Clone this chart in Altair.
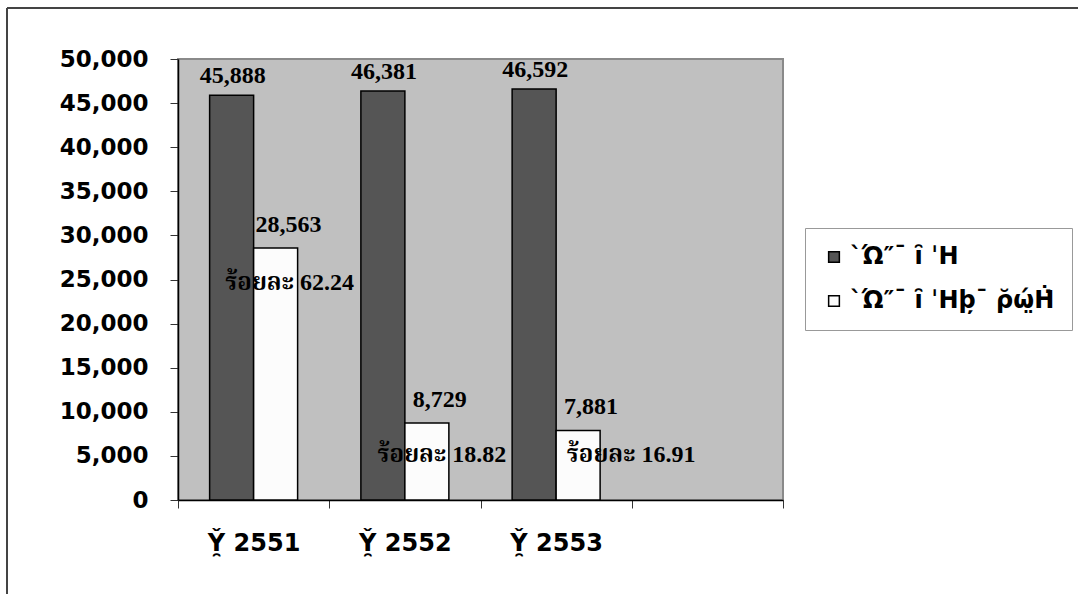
import altair as alt
import pandas as pd

years = ["Y̯̌ 2551", "Y̯̌ 2552", "Y̯̌ 2553"]
series = ["ˋΏ″¯ ȋ ˈH", "ˋΏ″¯ ȋ ˈHþ̦¯ ρ̆ώ̤Ḣ̇"]
total = [45888, 46381, 46592]
ontime = [28563, 8729, 7881]
percent = [62.24, 18.82, 16.91]
blank = "_"

rows = []
for i, y in enumerate(years):
    rows.append({"year": y, "series": series[0], "value": total[i], "pct": None, "k": 0})
    rows.append({"year": y, "series": series[1], "value": ontime[i], "pct": percent[i], "k": 1})
df = pd.DataFrame(rows)

W, H = 605, 441
LEFT, TOP = 178, 59

xscale = alt.Scale(domain=years + [blank], paddingInner=0, paddingOuter=0)
xoff = alt.Scale(domain=series, paddingInner=0, paddingOuter=0.719)
yscale = alt.Scale(domain=[0, 50000], nice=False)

x_enc = alt.X("year:N", scale=xscale, title=None,
              axis=alt.Axis(tickBand="extent", tickSize=8, labelAngle=0,
                            labelExpr=f"datum.value == '{blank}' ? '' : datum.label",
                            labelFont="DejaVu Sans", labelFontWeight="bold",
                            labelFontSize=24, labelColor="black", labelPadding=23,
                            domainColor="black", domainWidth=1.5, tickColor="#333",
                            grid=False))
y_enc = alt.Y("value:Q", scale=yscale, title=None,
              axis=alt.Axis(values=list(range(0, 50001, 5000)), format=",d",
                            tickSize=8, labelFont="DejaVu Sans", labelFontWeight="bold",
                            labelFontSize=23, labelColor="black", labelPadding=22,
                            domainColor="black", domainWidth=1.5, tickColor="#333",
                            grid=False))

base = alt.Chart(df)

bars = base.mark_bar(stroke="black", strokeWidth=1.5).encode(
    x=x_enc,
    xOffset=alt.XOffset("series:N", scale=xoff, sort=series),
    y=y_enc,
    fill=alt.Fill("series:N", sort=series,
                  scale=alt.Scale(domain=series, range=["#555555", "#fcfcfc"]),
                  legend=alt.Legend(title=None, orient="none", legendX=627, legendY=169,
                                    symbolType="square", symbolSize=115,
                                    symbolStrokeColor="black", symbolStrokeWidth=1.5,
                                    labelFont="DejaVu Sans", labelFontWeight="bold",
                                    labelFontSize=24, labelColor="black", labelLimit=400,
                                    rowPadding=20, padding=17, offset=0,
                                    fillColor="white", strokeColor="#999")),
)

serif = "Liberation Serif, Times New Roman, Noto Serif Thai, Noto Sans Thai, serif"

lab_total = base.transform_filter(alt.datum.k == 0).mark_text(
    font=serif, fontWeight="bold", fontSize=24, dy=-12, dx=1, baseline="alphabetic",
    color="black").encode(
    x=alt.X("year:N", scale=xscale),
    xOffset=alt.XOffset("series:N", scale=xoff, sort=series),
    y=alt.Y("value:Q", scale=yscale),
    text=alt.Text("value:Q", format=",d"),
)
lab_on = base.transform_filter(alt.datum.k == 1).mark_text(
    font=serif, fontWeight="bold", fontSize=24, dy=-16, dx=13, baseline="alphabetic",
    color="black").encode(
    x=alt.X("year:N", scale=xscale),
    xOffset=alt.XOffset("series:N", scale=xoff, sort=series),
    y=alt.Y("value:Q", scale=yscale),
    text=alt.Text("value:Q", format=",d"),
)

pct_offsets = [(14, 42), (15, 39), (53, 32)]
pct_layers = []
for i, y in enumerate(years):
    dx, dy = pct_offsets[i]
    pct_layers.append(
        base.transform_filter((alt.datum.k == 1) & (alt.datum.year == y))
        .transform_calculate(lbl="'ร้อยละ ' + format(datum.pct, '.2f')")
        .mark_text(font=serif, fontWeight="bold", fontSize=24, dx=dx, dy=dy,
                   baseline="alphabetic", color="black")
        .encode(
            x=alt.X("year:N", scale=xscale),
            xOffset=alt.XOffset("series:N", scale=xoff, sort=series),
            y=alt.Y("value:Q", scale=yscale),
            text="lbl:N",
        )
    )

frame_left = alt.Chart(df).mark_rule(color="#444", strokeWidth=2).encode(
    x=alt.value(7 - LEFT), y=alt.value(8 - TOP), y2=alt.value(594 - TOP))
frame_top = alt.Chart(df).mark_rule(color="#444", strokeWidth=2).encode(
    x=alt.value(7 - LEFT), x2=alt.value(1078 - LEFT), y=alt.value(8 - TOP))

chart = alt.layer(bars, lab_total, lab_on, *pct_layers, frame_left, frame_top).properties(
    width=W, height=H,
    autosize=alt.AutoSizeParams(type="none"),
    padding={"left": LEFT, "top": TOP, "right": 1078 - LEFT - W, "bottom": 594 - TOP - H},
    background="white",
).configure_view(fill="#c0c0c0", stroke="#8a8a8a", strokeWidth=2)

chart.save("out.html", embed_options={"renderer": "svg", "actions": False})
